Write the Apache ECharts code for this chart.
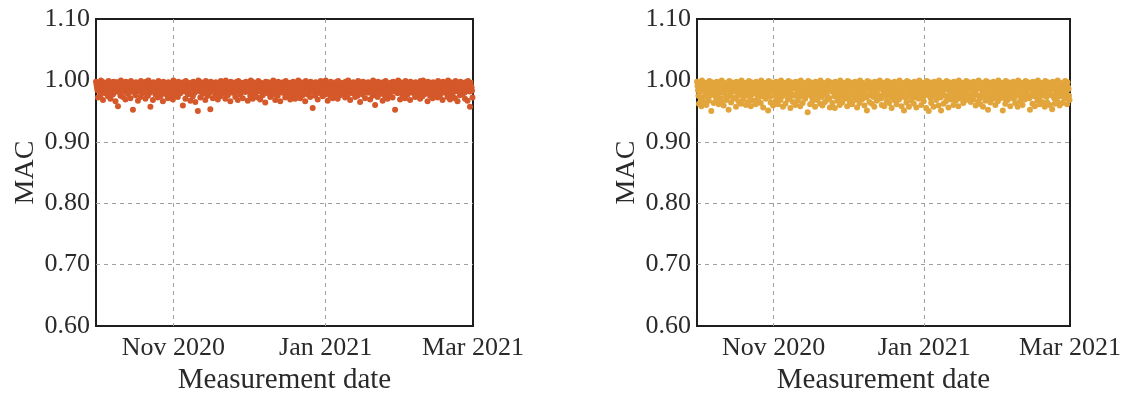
<!DOCTYPE html>
<html>
<head>
<meta charset="utf-8">
<script src="https://cdn.jsdelivr.net/npm/echarts@6/dist/echarts.min.js"></script>
<style>
  html, body { margin: 0; background: #fff; }
  #chart { width: 1129px; height: 396px; }
</style>
</head>
<body>
<div id="chart"></div>
<script>
// measurement window and sampling
const startDate = '2020-10-01';
const endDate = '2021-03-01';
const readingHours = [0, 5, 10, 14, 19]; // five MAC readings per day

const tickDates = ['2020-11-01', '2021-01-01', '2021-03-01'];
const tickLabels = ['Nov 2020', 'Jan 2021', 'Mar 2021'];

// MAC values, left panel (one row = 5 days x 5 readings)
const macLeft = [
  0.998,0.993,0.988,0.984,0.972, 0.995,0.990,0.987,0.981,0.976, 1.000,0.996,0.989,0.985,0.968, 0.997,0.992,0.986,0.982,0.979, 0.994,0.989,0.991,0.980,0.974,
  0.999,0.994,0.987,0.983,0.970, 0.996,0.991,0.988,0.986,0.977, 0.998,0.990,0.986,0.981,0.966, 0.995,0.997,0.989,0.984,0.958, 0.997,0.993,0.987,0.980,0.975,
  1.000,0.989,0.990,0.985,0.973, 0.994,0.995,0.986,0.982,0.969, 0.998,0.992,0.988,0.983,0.978, 0.996,0.990,0.987,0.981,0.971, 0.999,0.994,0.986,0.984,0.952,
  0.995,0.991,0.989,0.980,0.976, 0.997,0.996,0.987,0.985,0.967, 0.994,0.990,0.988,0.982,0.973, 0.999,0.993,0.986,0.983,0.979, 0.996,0.989,0.990,0.981,0.970,
  0.998,0.995,0.987,0.984,0.975, 1.000,0.992,0.989,0.980,0.957, 0.995,0.990,0.986,0.985,0.968, 0.997,0.994,0.988,0.982,0.977, 0.994,0.991,0.987,0.983,0.972,
  0.999,0.996,0.989,0.981,0.974, 0.996,0.989,0.986,0.984,0.966, 0.998,0.993,0.990,0.980,0.978, 0.995,0.990,0.987,0.985,0.971, 0.997,0.992,0.988,0.982,0.975,
  0.994,0.995,0.986,0.983,0.969, 1.000,0.991,0.989,0.981,0.976, 0.996,0.990,0.987,0.984,0.973, 0.998,0.994,0.988,0.980,0.979, 0.995,0.989,0.986,0.985,0.959,
  0.997,0.993,0.990,0.982,0.970, 0.999,0.996,0.987,0.983,0.977, 0.994,0.990,0.989,0.981,0.967, 0.996,0.992,0.986,0.984,0.974, 0.998,0.995,0.988,0.980,0.965,
  0.995,0.989,0.987,0.985,0.950, 1.000,0.994,0.990,0.982,0.972, 0.997,0.991,0.986,0.983,0.978, 0.994,0.996,0.989,0.981,0.968, 0.999,0.990,0.987,0.984,0.975,
  0.996,0.993,0.988,0.980,0.953, 0.998,0.990,0.986,0.985,0.971, 0.995,0.995,0.989,0.982,0.977, 0.997,0.992,0.987,0.983,0.969, 0.994,0.989,0.990,0.981,0.974,
  0.999,0.994,0.986,0.984,0.979, 0.996,0.991,0.988,0.980,0.970, 1.000,0.996,0.987,0.985,0.976, 0.995,0.990,0.989,0.982,0.966, 0.998,0.993,0.986,0.983,0.980,
  0.994,0.989,0.990,0.981,0.973, 0.997,0.995,0.987,0.984,0.968, 0.999,0.992,0.988,0.980,0.977, 0.996,0.990,0.986,0.985,0.971, 0.995,0.994,0.989,0.982,0.981,
  0.998,0.991,0.987,0.983,0.967, 0.994,0.996,0.990,0.981,0.975, 1.000,0.990,0.986,0.984,0.970, 0.997,0.993,0.988,0.980,0.978, 0.995,0.989,0.987,0.985,0.972,
  0.999,0.995,0.989,0.982,0.969, 0.996,0.992,0.986,0.983,0.976, 0.994,0.990,0.988,0.981,0.964, 0.998,0.994,0.990,0.984,0.979, 0.997,0.991,0.987,0.980,0.973,
  0.995,0.996,0.986,0.985,0.977, 1.000,0.989,0.989,0.982,0.968, 0.996,0.993,0.987,0.983,0.975, 0.998,0.990,0.988,0.981,0.966, 0.994,0.995,0.986,0.984,0.980,
  0.997,0.992,0.990,0.980,0.972, 0.999,0.990,0.987,0.985,0.976, 0.995,0.994,0.989,0.982,0.969, 0.996,0.991,0.986,0.983,0.974, 0.998,0.996,0.988,0.981,0.970,
  0.994,0.989,0.987,0.984,0.978, 1.000,0.993,0.990,0.980,0.971, 0.997,0.990,0.986,0.985,0.976, 0.995,0.995,0.988,0.982,0.966, 0.999,0.992,0.989,0.983,0.977,
  0.996,0.990,0.987,0.981,0.973, 0.998,0.994,0.986,0.984,0.955, 0.994,0.991,0.990,0.980,0.975, 0.997,0.996,0.988,0.985,0.969, 0.995,0.989,0.987,0.982,0.979,
  0.999,0.993,0.986,0.983,0.974, 0.996,0.990,0.989,0.981,0.977, 1.000,0.995,0.987,0.984,0.967, 0.995,0.992,0.988,0.980,0.975, 0.998,0.990,0.990,0.985,0.971,
  0.994,0.994,0.986,0.982,0.978, 0.997,0.991,0.989,0.983,0.970, 0.999,0.996,0.987,0.981,0.976, 0.995,0.989,0.988,0.984,0.980, 0.996,0.993,0.986,0.980,0.972,
  0.998,0.990,0.990,0.985,0.976, 1.000,0.995,0.987,0.982,0.968, 0.994,0.992,0.989,0.983,0.979, 0.997,0.990,0.986,0.981,0.973, 0.995,0.994,0.988,0.984,0.975,
  0.999,0.991,0.987,0.980,0.965, 0.996,0.996,0.990,0.985,0.977, 0.998,0.989,0.986,0.982,0.971, 0.994,0.993,0.988,0.983,0.980, 0.997,0.990,0.989,0.981,0.969,
  0.995,0.995,0.987,0.984,0.975, 1.000,0.992,0.986,0.980,0.960, 0.996,0.990,0.990,0.985,0.973, 0.998,0.994,0.988,0.982,0.978, 0.994,0.991,0.987,0.983,0.967,
  0.997,0.996,0.989,0.981,0.974, 0.999,0.989,0.986,0.984,0.970, 0.995,0.993,0.988,0.980,0.976, 0.996,0.990,0.987,0.985,0.972, 0.998,0.995,0.990,0.982,0.952,
  0.994,0.992,0.986,0.983,0.979, 1.000,0.990,0.989,0.981,0.969, 0.997,0.994,0.987,0.984,0.975, 0.995,0.991,0.988,0.980,0.971, 0.999,0.996,0.986,0.985,0.977,
  0.996,0.989,0.990,0.982,0.968, 0.998,0.993,0.987,0.983,0.980, 0.994,0.990,0.989,0.981,0.973, 0.997,0.995,0.986,0.984,0.976, 0.995,0.992,0.988,0.980,0.970,
  0.999,0.990,0.987,0.985,0.974, 1.000,0.994,0.990,0.982,0.978, 0.996,0.991,0.986,0.983,0.966, 0.998,0.996,0.989,0.981,0.975, 0.995,0.989,0.988,0.984,0.971,
  0.997,0.993,0.987,0.980,0.977, 0.994,0.990,0.986,0.985,0.972, 0.999,0.995,0.990,0.982,0.976, 0.996,0.992,0.988,0.983,0.968, 0.998,0.990,0.987,0.981,0.980,
  0.995,0.994,0.989,0.984,0.973, 1.000,0.991,0.986,0.980,0.969, 0.997,0.996,0.988,0.985,0.975, 0.994,0.989,0.987,0.982,0.971, 0.999,0.993,0.990,0.983,0.966,
  0.996,0.990,0.986,0.981,0.976, 0.998,0.995,0.989,0.984,0.978, 0.995,0.992,0.987,0.980,0.970, 0.997,0.990,0.988,0.985,0.967, 0.999,0.994,0.986,0.982,0.957,
  0.996,0.991,0.989,0.983,0.972
];

// MAC values, right panel
const macRight = [
  0.998,0.991,0.984,0.975,0.962, 0.995,0.988,0.982,0.970,0.958, 1.000,0.994,0.986,0.973,0.965, 0.996,0.990,0.983,0.977,0.960, 0.993,0.995,0.987,0.972,0.967,
  0.999,0.989,0.981,0.976,0.950, 0.997,0.993,0.985,0.979,0.963, 0.994,0.990,0.988,0.974,0.969, 0.998,0.996,0.982,0.978,0.961, 0.995,0.987,0.984,0.971,0.966,
  1.000,0.992,0.989,0.980,0.959, 0.996,0.994,0.983,0.975,0.968, 0.993,0.988,0.986,0.973,0.952, 0.999,0.991,0.981,0.977,0.964, 0.997,0.995,0.985,0.982,0.970,
  0.994,0.990,0.987,0.972,0.957, 0.998,0.993,0.982,0.976,0.966, 0.995,0.989,0.984,0.979,0.962, 1.000,0.996,0.988,0.974,0.969, 0.996,0.987,0.983,0.981,0.960,
  0.993,0.992,0.986,0.975,0.965, 0.999,0.990,0.981,0.973,0.958, 0.997,0.994,0.989,0.978,0.967, 0.994,0.988,0.985,0.980,0.961, 0.998,0.995,0.982,0.972,0.968,
  0.995,0.991,0.987,0.977,0.963, 1.000,0.989,0.984,0.974,0.956, 0.996,0.993,0.983,0.976,0.970, 0.993,0.996,0.988,0.979,0.951, 0.999,0.990,0.981,0.973,0.964,
  0.997,0.987,0.986,0.982,0.959, 0.994,0.992,0.985,0.975,0.966, 0.998,0.994,0.982,0.971,0.961, 0.995,0.990,0.989,0.978,0.968, 1.000,0.988,0.984,0.974,0.957,
  0.996,0.995,0.983,0.980,0.962, 0.993,0.991,0.987,0.976,0.969, 0.999,0.989,0.981,0.972,0.955, 0.997,0.993,0.986,0.977,0.965, 0.994,0.996,0.988,0.975,0.960,
  0.998,0.990,0.985,0.979,0.967, 0.995,0.987,0.982,0.973,0.958, 1.000,0.994,0.989,0.981,0.963, 0.996,0.992,0.984,0.974,0.970, 0.993,0.988,0.983,0.976,0.948,
  0.999,0.995,0.986,0.978,0.961, 0.997,0.990,0.981,0.972,0.966, 0.994,0.993,0.988,0.980,0.957, 0.998,0.989,0.985,0.975,0.968, 0.995,0.996,0.982,0.977,0.962,
  1.000,0.991,0.987,0.973,0.959, 0.996,0.988,0.984,0.979,0.965, 0.993,0.994,0.983,0.976,0.969, 0.999,0.992,0.989,0.971,0.956, 0.997,0.990,0.986,0.982,0.963,
  0.994,0.987,0.981,0.974,0.955, 0.998,0.995,0.985,0.978,0.967, 0.995,0.990,0.988,0.972,0.960, 1.000,0.993,0.982,0.977,0.964, 0.996,0.989,0.984,0.980,0.970,
  0.993,0.996,0.987,0.975,0.958, 0.999,0.991,0.983,0.973,0.966, 0.997,0.988,0.986,0.979,0.961, 0.994,0.994,0.989,0.976,0.968, 0.998,0.990,0.981,0.971,0.956,
  0.995,0.992,0.985,0.978,0.963, 1.000,0.987,0.984,0.974,0.969, 0.996,0.995,0.982,0.980,0.959, 0.993,0.990,0.988,0.972,0.951, 0.999,0.993,0.986,0.977,0.965,
  0.997,0.989,0.983,0.975,0.962, 0.994,0.996,0.987,0.973,0.957, 0.998,0.991,0.981,0.979,0.967, 0.995,0.988,0.985,0.976,0.970, 1.000,0.994,0.989,0.971,0.960,
  0.996,0.990,0.984,0.978,0.958, 0.993,0.993,0.982,0.974,0.966, 0.999,0.987,0.986,0.980,0.963, 0.997,0.995,0.988,0.972,0.955, 0.994,0.992,0.983,0.977,0.968,
  0.998,0.989,0.987,0.975,0.961, 0.995,0.996,0.981,0.979,0.969, 1.000,0.990,0.985,0.973,0.958, 0.996,0.994,0.984,0.976,0.951, 0.993,0.988,0.989,0.971,0.964,
  0.999,0.991,0.982,0.978,0.957, 0.997,0.995,0.986,0.974,0.967, 0.994,0.987,0.983,0.980,0.962, 0.998,0.993,0.988,0.972,0.956, 0.995,0.990,0.984,0.977,0.970,
  1.000,0.996,0.987,0.975,0.960, 0.996,0.989,0.981,0.973,0.966, 0.993,0.992,0.985,0.979,0.955, 0.999,0.988,0.989,0.976,0.950, 0.997,0.994,0.982,0.971,0.963,
  0.994,0.990,0.986,0.978,0.957, 0.998,0.995,0.983,0.974,0.968, 0.995,0.987,0.988,0.980,0.959, 1.000,0.993,0.984,0.972,0.951, 0.996,0.991,0.981,0.977,0.962,
  0.993,0.996,0.987,0.975,0.966, 0.999,0.989,0.985,0.973,0.956, 0.997,0.992,0.982,0.979,0.969, 0.994,0.988,0.989,0.976,0.960, 0.998,0.994,0.984,0.971,0.967,
  0.995,0.990,0.986,0.978,0.958, 1.000,0.995,0.983,0.974,0.970, 0.996,0.987,0.988,0.980,0.963, 0.993,0.993,0.981,0.972,0.968, 0.999,0.991,0.985,0.977,0.972,
  0.997,0.989,0.987,0.975,0.965, 0.994,0.996,0.984,0.973,0.969, 0.998,0.990,0.982,0.979,0.959, 0.995,0.994,0.986,0.976,0.966, 1.000,0.988,0.989,0.971,0.961,
  0.996,0.992,0.983,0.978,0.957, 0.993,0.995,0.987,0.974,0.967, 0.999,0.987,0.981,0.980,0.952, 0.997,0.991,0.985,0.972,0.964, 0.994,0.993,0.988,0.977,0.970,
  0.998,0.990,0.984,0.975,0.960, 0.995,0.996,0.982,0.973,0.966, 1.000,0.989,0.986,0.979,0.971, 0.996,0.994,0.989,0.976,0.951, 0.993,0.988,0.983,0.971,0.962,
  0.999,0.992,0.987,0.978,0.968, 0.997,0.995,0.981,0.974,0.958, 0.994,0.990,0.985,0.980,0.971, 0.998,0.987,0.988,0.972,0.963, 0.995,0.993,0.984,0.977,0.957,
  1.000,0.991,0.982,0.975,0.966, 0.996,0.996,0.986,0.973,0.960, 0.993,0.989,0.989,0.979,0.969, 0.999,0.994,0.983,0.976,0.974, 0.997,0.990,0.987,0.971,0.952,
  0.994,0.988,0.985,0.978,0.962, 0.998,0.995,0.981,0.974,0.958, 0.995,0.992,0.988,0.980,0.967, 1.000,0.987,0.984,0.972,0.961, 0.996,0.993,0.986,0.977,0.965,
  0.993,0.990,0.982,0.975,0.957, 0.999,0.996,0.987,0.973,0.964, 0.997,0.989,0.983,0.979,0.960, 0.994,0.994,0.989,0.976,0.953, 0.998,0.991,0.985,0.971,0.962,
  0.995,0.988,0.981,0.978,0.966, 1.000,0.995,0.986,0.974,0.959, 0.996,0.992,0.984,0.980,0.963, 0.993,0.990,0.988,0.972,0.970, 0.999,0.993,0.982,0.977,0.961,
  0.997,0.989,0.986,0.975,0.968
];

const startTime = Date.parse(startDate);
const endTime = Date.parse(endDate);
const tickTimes = tickDates.map(d => Date.parse(d));

function toPoints(values) {
  const n = readingHours.length;
  return values.map((v, i) => {
    const day = Math.floor(i / n);
    const hour = readingHours[i % n];
    return [startTime + (day * 24 + hour) * 3600 * 1000, v];
  });
}

const fontFamily = 'Liberation Serif, Times New Roman, serif';
const textColor = '#2a2a2a';

function makeGrid(left, right) {
  return {
    left: left, right: right, top: 19, bottom: 70,
    outerBoundsMode: 'none',
    show: true,
    borderColor: '#1e1e1e',
    borderWidth: 2,
    backgroundColor: 'transparent'
  };
}

function makeXAxis(gridIndex) {
  return {
    type: 'value',
    gridIndex: gridIndex,
    min: startTime,
    max: endTime,
    name: 'Measurement date',
    nameLocation: 'middle',
    nameGap: 36,
    nameTextStyle: { fontFamily: fontFamily, fontSize: 29, color: textColor },
    axisLine: { show: false },
    axisTick: { show: false, customValues: tickTimes },
    axisLabel: {
      customValues: tickTimes,
      showMaxLabel: true,
      fontFamily: fontFamily,
      fontSize: 26,
      color: textColor,
      margin: 9,
      formatter: function (val) {
        const i = tickTimes.indexOf(val);
        return i >= 0 ? tickLabels[i] : '';
      }
    },
    splitLine: {
      show: true,
      showMinLine: true,
      showMaxLine: false,
      lineStyle: { color: '#a0a0a0', width: 1, type: [4, 4] }
    }
  };
}

function makeYAxis(gridIndex) {
  return {
    type: 'value',
    gridIndex: gridIndex,
    min: 0.6,
    max: 1.1,
    interval: 0.1,
    name: 'MAC',
    nameLocation: 'middle',
    nameGap: 56,
    nameTextStyle: { fontFamily: fontFamily, fontSize: 28, color: textColor },
    axisLine: { show: false },
    axisTick: { show: false },
    axisLabel: {
      fontFamily: fontFamily,
      fontSize: 26,
      color: textColor,
      margin: 6,
      formatter: v => v.toFixed(2)
    },
    splitLine: {
      show: true,
      showMinLine: false,
      showMaxLine: false,
      lineStyle: { color: '#a0a0a0', width: 1, type: [4, 4] }
    }
  };
}

const chart = echarts.init(document.getElementById('chart'));
chart.setOption({
  animation: false,
  backgroundColor: '#fff',
  grid: [makeGrid(96, 656), makeGrid(697, 59)],
  xAxis: [makeXAxis(0), makeXAxis(1)],
  yAxis: [makeYAxis(0), makeYAxis(1)],
  series: [
    {
      name: 'MAC left',
      type: 'scatter',
      xAxisIndex: 0,
      yAxisIndex: 0,
      symbolSize: 6,
      itemStyle: { color: '#d4582a', opacity: 1 },
      data: toPoints(macLeft)
    },
    {
      name: 'MAC right',
      type: 'scatter',
      xAxisIndex: 1,
      yAxisIndex: 1,
      symbolSize: 6,
      itemStyle: { color: '#e2a53c', opacity: 1 },
      data: toPoints(macRight)
    }
  ]
});
</script>
</body>
</html>
